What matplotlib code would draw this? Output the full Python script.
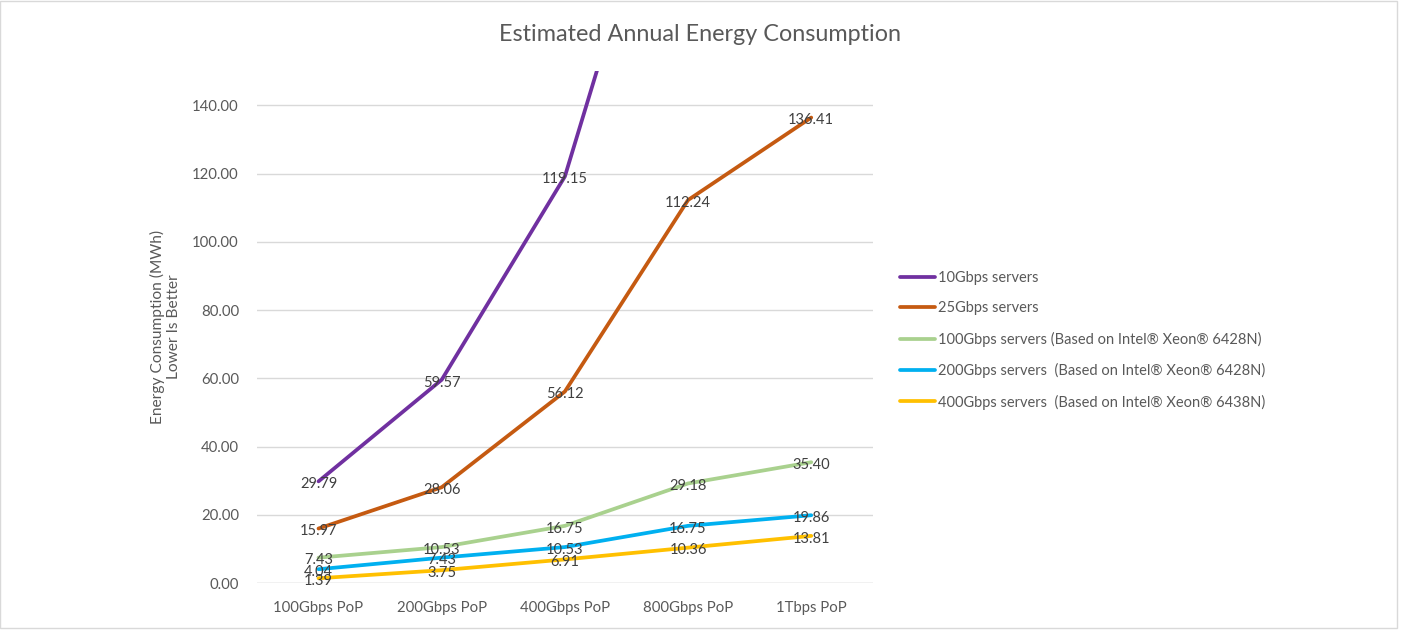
import numpy as np
import matplotlib
matplotlib.use('Agg')
import matplotlib.pyplot as plt

# chart data
categories = ['100Gbps PoP', '200Gbps PoP', '400Gbps PoP', '800Gbps PoP', '1Tbps PoP']
series_names = [
    '10Gbps servers',
    '25Gbps servers',
    '100Gbps servers (Based on Intel® Xeon® 6428N)',
    '200Gbps servers  (Based on Intel® Xeon® 6428N)',
    '400Gbps servers  (Based on Intel® Xeon® 6438N)',
]
# last two purple points run off the top of the chart, estimated
vals_10g = [29.79, 59.57, 119.15, 238.30, 297.87]
vals_25g = [15.97, 28.06, 56.12, 112.24, 136.41]
vals_100g = [7.43, 10.53, 16.75, 29.18, 35.40]
vals_200g = [4.04, 7.43, 10.53, 16.75, 19.86]
vals_400g = [1.39, 3.75, 6.91, 10.36, 13.81]
colors = ['#7030A0', '#C55A11', '#A9D18E', '#00B0F0', '#FFC000']
y_max = 150

plt.rcParams['font.family'] = ['Lato', 'DejaVu Sans']

fig = plt.figure(figsize=(14.01, 6.3), dpi=100)
ax = fig.add_axes([0.1834, 0.0746, 0.4396, 0.8124])

x = np.arange(len(categories))
all_vals = [vals_10g, vals_25g, vals_100g, vals_200g, vals_400g]
for vals, name, c in zip(all_vals, series_names, colors):
    ax.plot(x, vals, color=c, linewidth=2.7, label=name, solid_capstyle='round')

# data labels, centred on the points (off-chart points get none, like the original)
for vals in all_vals:
    for xi, v in zip(x, vals):
        if v > y_max:
            continue
        ax.annotate(f'{v:.2f}', (xi, v), xytext=(0, -2), textcoords='offset points',
                    ha='center', va='center', fontsize=10.5, color='#404040')

ax.set_xlim(-0.5, len(categories) - 0.5)
ax.set_ylim(0, y_max)
ax.set_yticks(np.arange(0, 141, 20))
ax.set_yticklabels([f'{t:.2f}' for t in np.arange(0, 141, 20)])
ax.set_xticks(x)
ax.set_xticklabels(categories)
ax.tick_params(axis='both', length=0, labelsize=10.7, colors='#595959')
ax.tick_params(axis='x', pad=13)
ax.tick_params(axis='y', pad=13)
ax.grid(axis='y', color='#D9D9D9', linewidth=1)
ax.set_axisbelow(True)
for s in ax.spines.values():
    s.set_visible(False)
ax.axhline(0, color='#D9D9D9', linewidth=1, zorder=0)

ax.set_ylabel('Energy Consumption (MWh)\nLower Is Better', fontsize=11.2,
              color='#595959', labelpad=8)

fig.text(0.4996, 0.945, 'Estimated Annual Energy Consumption', ha='center',
         va='center', fontsize=16.8, color='#595959')

leg = ax.legend(loc='upper left', bbox_to_anchor=(0.6385, 0.579),
                bbox_transform=fig.transFigure, frameon=False, fontsize=10.5,
                handlelength=2.4, handletextpad=0.15, labelspacing=1.12,
                borderaxespad=0)
for t in leg.get_texts():
    t.set_color('#595959')

# light frame around the chart
fig.patches.append(plt.Rectangle((0.0, 0.003), 0.997, 0.996, transform=fig.transFigure,
                                 fill=False, edgecolor='#D9D9D9', linewidth=1))

fig.savefig('out.png', dpi=100)
